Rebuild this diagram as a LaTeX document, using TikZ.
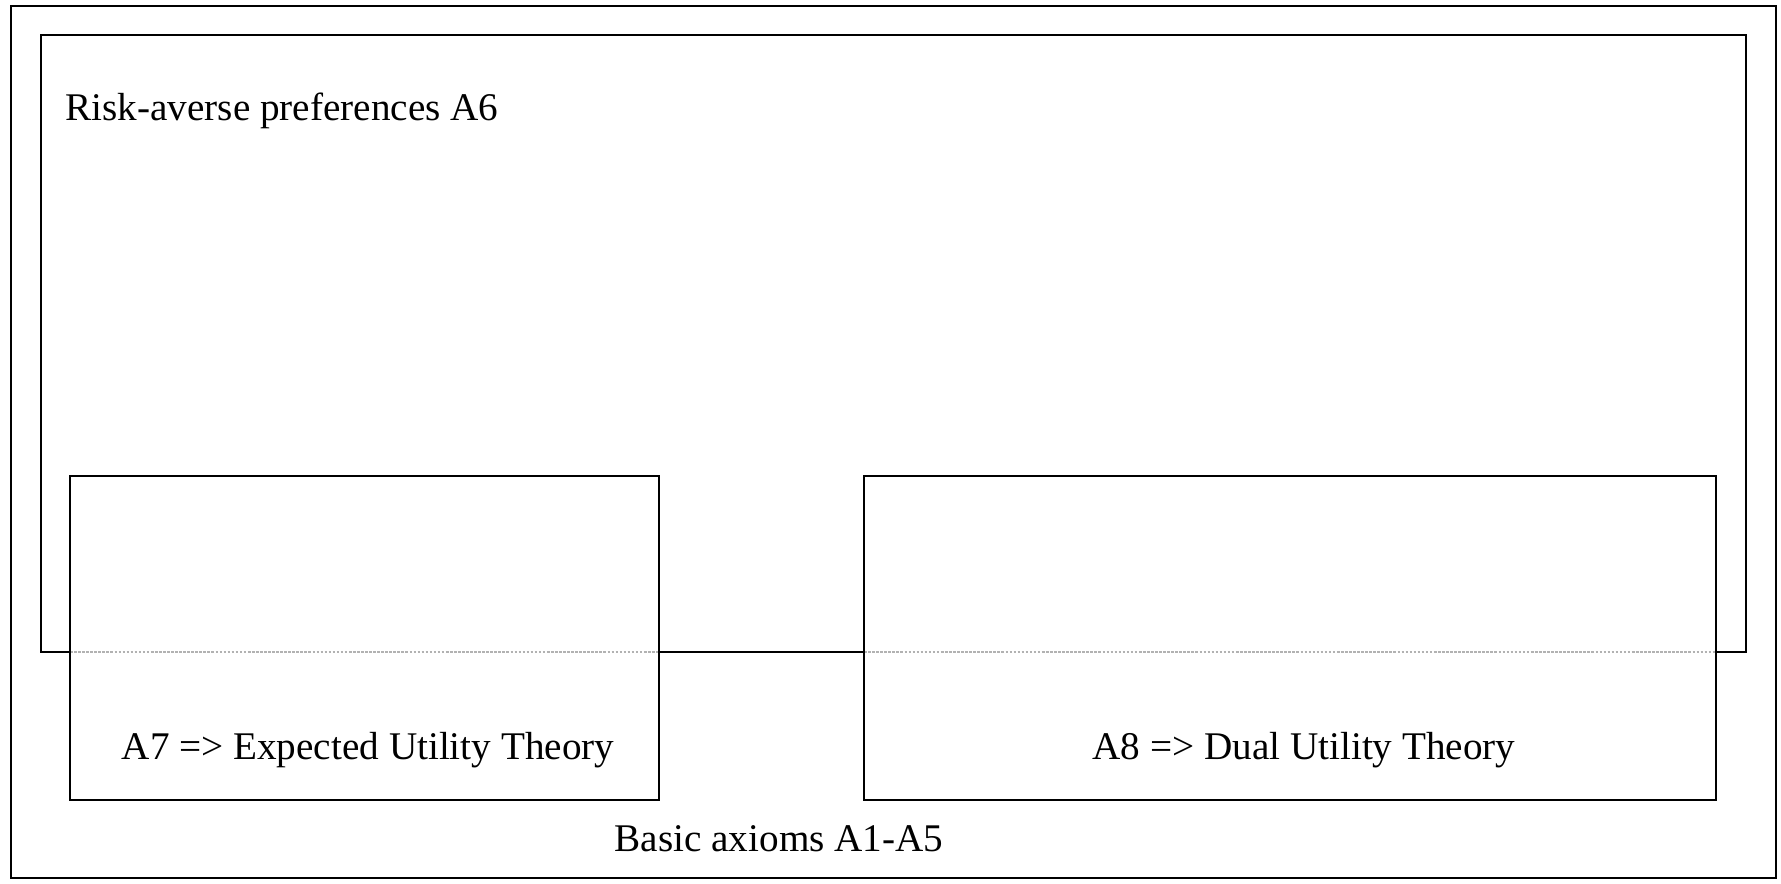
\documentclass[tikz,border=0pt]{standalone}
\usepackage{fontspec}
\setmainfont{Liberation Serif}
\usetikzlibrary{positioning, calc}

\begin{document}
\begin{tikzpicture}[
		x=0.02cm, y=-0.02cm,
		% --- Styles ---
		frame/.style={
			rectangle, draw, line width=1.4pt, inner sep=0pt, outer sep=0pt
		},
		innerframe/.style={
			frame, fill=white
		},
		caption/.style={
			inner sep=0pt, font=\fontsize{22.3}{26}\selectfont
		},
		seam/.style={
			draw, gray!60, line width=0.7pt, dash pattern=on 1.5pt off 0.8pt
		}
		]
		\useasboundingbox (0,0) rectangle (1781,884);
		
		% --- 1. Outer frame (basic axioms) ---
		\node [frame, minimum width=35.3cm, minimum height=17.44cm] (basic) at (893.5,442) {};
		
		% --- 2. Risk-averse frame ---
		\node [frame, minimum width=34.1cm, minimum height=12.34cm] (risk) at (893.5,343.5) {};
		
		% --- 3. Theory boxes (over the bottom edge of risk) ---
		\node [innerframe, minimum width=11.78cm, minimum height=6.48cm] (eut) at (364.5,638) {};
		\node [innerframe, minimum width=17.04cm, minimum height=6.48cm] (dut) at (1290,638) {};
		
		% Edge of risk showing through the boxes
		\draw [seam] (eut.west |- risk.south) -- (eut.east |- risk.south);
		\draw [seam] (dut.west |- risk.south) -- (dut.east |- risk.south);
		\node [frame, minimum width=11.78cm, minimum height=6.48cm] at (eut) {};
		\node [frame, minimum width=17.04cm, minimum height=6.48cm] at (dut) {};
		
		% --- Labels ---
		\node [caption, anchor=west] (risk_label) at ($(risk.north west)+(24,76)$) {Risk-averse preferences A6};
		\node [caption] (eut_label) at ($(eut.south)+(3.5,-50)$) {A7 => Expected Utility Theory};
		\node [caption] (dut_label) at ($(dut.south)+(14,-50)$) {A8 => Dual Utility Theory};
		\node [caption] (basic_label) at (779,839) {Basic axioms A1-A5};
		
\end{tikzpicture}
\end{document}
